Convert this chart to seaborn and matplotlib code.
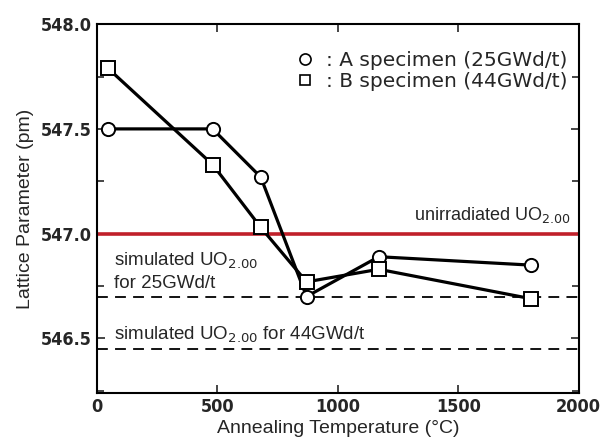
import matplotlib
matplotlib.use("Agg")
import matplotlib.pyplot as plt
import seaborn as sns
import pandas as pd
from matplotlib.ticker import MultipleLocator
from matplotlib.lines import Line2D

# Data
temp_a = [45, 480, 680, 870, 1170, 1800]
lat_a = [547.50, 547.50, 547.27, 546.70, 546.89, 546.85]
temp_b = [45, 480, 680, 870, 1170, 1800]
lat_b = [547.79, 547.33, 547.03, 546.77, 546.83, 546.69]
unirradiated = 547.00
sim_25 = 546.70
sim_44 = 546.45
x_ticks = [0, 500, 1000, 1500, 2000]
y_ticks = [546.5, 547.0, 547.5, 548.0]

sns.set_style("ticks")
plt.rcParams['font.family'] = ['Liberation Sans', 'DejaVu Sans']

df = pd.DataFrame({
    "T": temp_a + temp_b,
    "a": lat_a + lat_b,
    "spec": ["A"] * len(temp_a) + ["B"] * len(temp_b),
})

fig = plt.figure(figsize=(6.06, 4.47), dpi=100)
ax = fig.add_axes([0.16, 0.121, 0.795, 0.825])

ax.axhline(unirradiated, color="#c0202a", lw=2.6, zorder=1)
ax.axhline(sim_25, color="black", lw=1.3, ls=(0, (6, 4)), zorder=1)
ax.axhline(sim_44, color="black", lw=1.3, ls=(0, (6, 4)), zorder=1)

sns.lineplot(data=df, x="T", y="a", hue="spec", style="spec",
             palette={"A": "black", "B": "black"},
             markers={"A": "o", "B": "s"}, dashes=False,
             lw=2.3, markersize=9.5, markerfacecolor="white",
             markeredgecolor="black", markeredgewidth=1.4,
             legend=False, ax=ax, zorder=3)

ax.set_xlim(0, 2000)
ax.set_ylim(546.24, 548.0)
ax.set_xticks(x_ticks)
ax.set_xticklabels([str(t) for t in x_ticks])
ax.set_yticks(y_ticks)
ax.set_yticklabels([f"{t:.1f}" for t in y_ticks])
ax.yaxis.set_minor_locator(MultipleLocator(0.25))
ax.tick_params(axis="both", which="both", direction="in", top=True, right=True,
               width=1.2, labelsize=13)
ax.tick_params(which="major", length=6)
ax.tick_params(which="minor", length=5)
for lab in ax.get_xticklabels() + ax.get_yticklabels():
    lab.set_fontweight("bold")
    lab.set_family("DejaVu Sans")
    lab.set_fontstretch("condensed")
for s in ax.spines.values():
    s.set_linewidth(1.5)
    s.set_color("black")

ax.set_xlabel("Annealing Temperature (°C)", fontsize=14, labelpad=3)
ax.set_ylabel("Lattice Parameter (pm)", fontsize=14, labelpad=5)

ax.text(1965, 547.04, "unirradiated UO$_{2.00}$", ha="right", va="bottom", fontsize=13)
ax.text(70, 546.92, "simulated UO$_{2.00}$\nfor 25GWd/t", ha="left", va="top",
        fontsize=13.5, linespacing=1.3)
ax.text(70, 546.47, "simulated UO$_{2.00}$ for 44GWd/t", ha="left", va="bottom",
        fontsize=13.5)

handles = [
    Line2D([], [], ls="none", marker="o", markersize=8, markerfacecolor="white",
           markeredgecolor="black", markeredgewidth=1.2),
    Line2D([], [], ls="none", marker="s", markersize=7, markerfacecolor="white",
           markeredgecolor="black", markeredgewidth=1.2),
]
leg = ax.legend(handles, [": A specimen (25GWd/t)", ": B specimen (44GWd/t)"],
                loc="upper right", bbox_to_anchor=(1.005, 0.965), frameon=False,
                handlelength=0.8, handletextpad=0.6, labelspacing=0.1,
                borderaxespad=0.3, prop={"family": "DejaVu Sans", "size": 14.5})

fig.savefig("out.png", dpi=100)
